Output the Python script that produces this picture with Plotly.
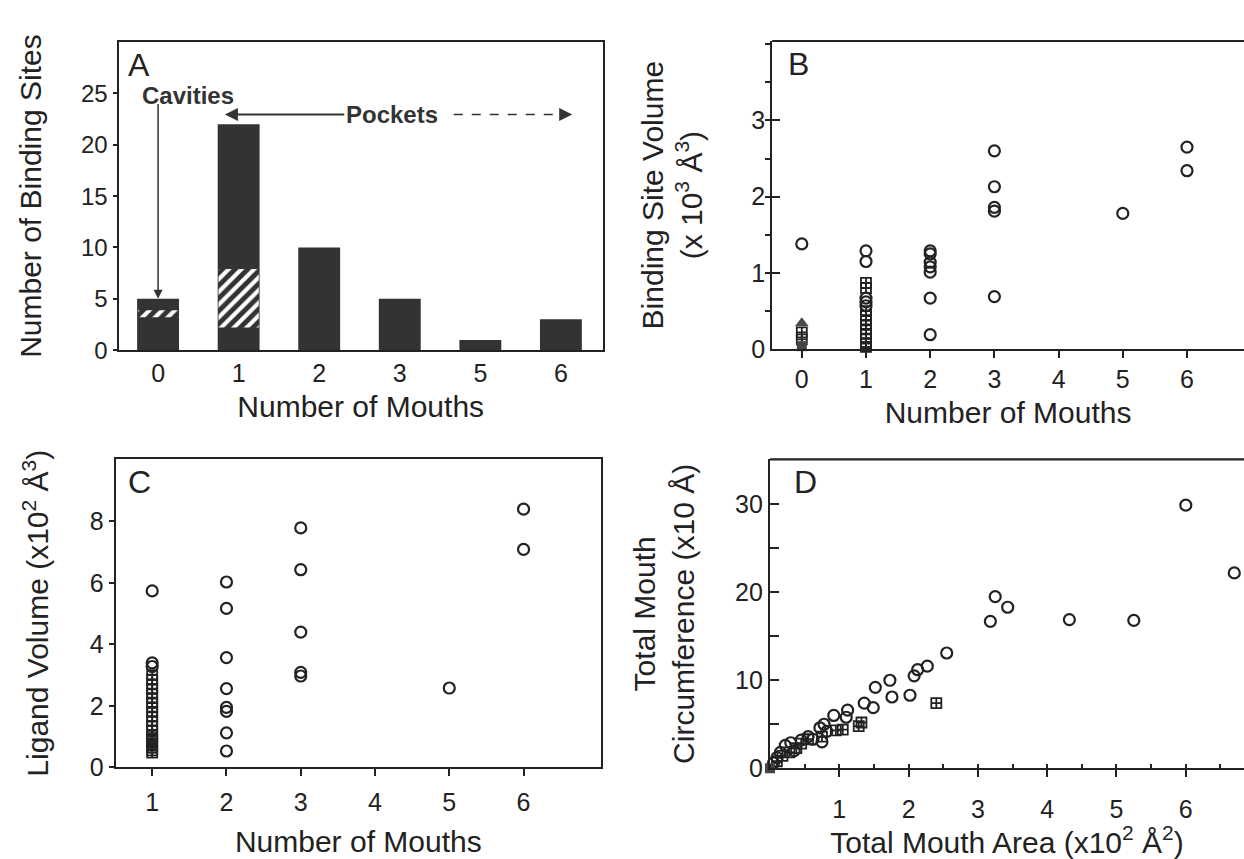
import plotly.graph_objects as go

# ---------------- Panel A: histogram of binding sites ----------------
mouth_categories = ["0", "1", "2", "3", "5", "6"]
site_counts = [5, 22, 10, 5, 1, 3]
hatched_categories = ["0", "1"]
hatched_base = [3.2, 2.2]
hatched_top = [3.9, 7.9]

# ---------------- Panel B: binding site volume (x10^3 A^3) ----------------
b_circle_x = [0, 1, 1, 1, 1, 1, 2, 2, 2, 2, 2, 2, 2, 3, 3, 3, 3, 3, 5, 6, 6]
b_circle_y = [1.38, 1.29, 1.15, 0.67, 0.62, 0.57, 1.29, 1.25, 1.14, 1.08, 1.01, 0.67, 0.19,
              2.60, 2.13, 1.86, 1.81, 0.69, 1.78, 2.65, 2.34]
b_square_x = [0, 0, 1, 1, 1, 1, 1, 1, 1, 1, 1, 1, 1]
b_square_y = [0.22, 0.13, 0.87, 0.80, 0.50, 0.44, 0.38, 0.32, 0.26, 0.20, 0.14, 0.08, 0.03]
b_filled_x = [0]
b_filled_y = [0.04]
b_triangle_x = [0]
b_triangle_y = [0.34]

# ---------------- Panel C: ligand volume (x10^2 A^3) ----------------
c_circle_x = [1, 1, 1, 2, 2, 2, 2, 2, 2, 2, 2, 3, 3, 3, 3, 3, 5, 6, 6]
c_circle_y = [5.74, 3.40, 3.28, 6.03, 5.17, 3.57, 2.56, 1.95, 1.82, 1.12, 0.53,
              7.79, 6.43, 4.40, 3.09, 2.97, 2.58, 8.40, 7.09]
c_square_x = [1] * 20
c_square_y = [3.00, 2.85, 2.70, 2.55, 2.40, 2.25, 2.10, 1.95, 1.80, 1.65,
              1.50, 1.35, 1.20, 1.05, 0.95, 0.85, 0.75, 0.65, 0.55, 0.48]

# ---------------- Panel D: mouth circumference vs area ----------------
d_circle_x = [6.00, 6.70, 3.25, 3.43, 3.18, 4.32, 5.25, 2.55, 2.27, 2.13, 2.08, 1.73, 1.52,
              1.76, 2.02, 1.36, 1.49, 1.12, 1.10, 0.92, 0.78, 0.72, 0.55, 0.45, 0.30,
              0.22, 0.15, 0.10, 0.05, 0.82, 0.62, 0.75, 0.35]
d_circle_y = [29.9, 22.2, 19.5, 18.3, 16.7, 16.9, 16.8, 13.1, 11.6, 11.2, 10.5, 10.0, 9.2,
              8.1, 8.3, 7.4, 6.9, 6.6, 5.8, 6.0, 5.0, 4.6, 3.6, 3.2, 2.9,
              2.6, 1.8, 1.2, 0.6, 4.2, 3.3, 3.0, 2.0]
d_square_x = [2.40, 1.32, 1.28, 1.05, 0.95, 0.75, 0.55, 0.45, 0.38, 0.28, 0.18, 0.10]
d_square_y = [7.4, 5.2, 4.8, 4.4, 4.3, 3.6, 3.3, 2.8, 2.3, 1.8, 1.4, 0.8]
d_filled_x = [0.0]
d_filled_y = [0.0]

INK = "#222222"
FONT = "Liberation Sans, Arial, Helvetica, sans-serif"
W, H = 1244, 859


def dom_x(left, right):
    return [left / W, min(right / W, 1.0)]


def dom_y(top, bottom):
    return [1 - bottom / H, 1 - top / H]


circle_marker = dict(symbol="circle-open", size=11, color=INK, line=dict(width=2.2, color=INK))
square_marker = dict(symbol="square-cross-open", size=10, color=INK, line=dict(width=1.8, color=INK))
filled_marker = dict(symbol="square", size=10, color="#444444")
tri_marker = dict(symbol="triangle-up", size=12, color="#4a4a4a")

fig = go.Figure()

# Panel A bars
fig.add_trace(go.Bar(x=mouth_categories, y=site_counts, width=0.52,
                     marker=dict(color="#333333", line=dict(width=0)),
                     xaxis="x", yaxis="y", showlegend=False))
fig.add_trace(go.Bar(x=hatched_categories,
                     y=[t - b for t, b in zip(hatched_top, hatched_base)],
                     base=hatched_base, width=0.5,
                     marker=dict(color="white", line=dict(width=0),
                                 pattern=dict(shape="/", bgcolor="white", fgcolor="#333333",
                                              size=9, solidity=0.55, fillmode="replace")),
                     xaxis="x", yaxis="y", showlegend=False))

# Panel B
fig.add_trace(go.Scatter(x=b_circle_x, y=b_circle_y, mode="markers", marker=circle_marker,
                         xaxis="x2", yaxis="y2", showlegend=False, cliponaxis=False))
fig.add_trace(go.Scatter(x=b_square_x, y=b_square_y, mode="markers", marker=square_marker,
                         xaxis="x2", yaxis="y2", showlegend=False, cliponaxis=False))
fig.add_trace(go.Scatter(x=b_filled_x, y=b_filled_y, mode="markers", marker=filled_marker,
                         xaxis="x2", yaxis="y2", showlegend=False, cliponaxis=False))
fig.add_trace(go.Scatter(x=b_triangle_x, y=b_triangle_y, mode="markers", marker=tri_marker,
                         xaxis="x2", yaxis="y2", showlegend=False, cliponaxis=False))

# Panel C
fig.add_trace(go.Scatter(x=c_square_x, y=c_square_y, mode="markers", marker=square_marker,
                         xaxis="x3", yaxis="y3", showlegend=False, cliponaxis=False))
fig.add_trace(go.Scatter(x=c_circle_x, y=c_circle_y, mode="markers", marker=circle_marker,
                         xaxis="x3", yaxis="y3", showlegend=False, cliponaxis=False))

# Panel D
fig.add_trace(go.Scatter(x=d_circle_x, y=d_circle_y, mode="markers", marker=circle_marker,
                         xaxis="x4", yaxis="y4", showlegend=False, cliponaxis=False))
fig.add_trace(go.Scatter(x=d_square_x, y=d_square_y, mode="markers", marker=square_marker,
                         xaxis="x4", yaxis="y4", showlegend=False, cliponaxis=False))
fig.add_trace(go.Scatter(x=d_filled_x, y=d_filled_y, mode="markers", marker=filled_marker,
                         xaxis="x4", yaxis="y4", showlegend=False, cliponaxis=False))

axis_common = dict(showline=True, linecolor=INK, linewidth=2.2, showgrid=False, zeroline=False,
                   tickcolor=INK, tickwidth=2, tickfont=dict(family=FONT, size=25, color=INK))
title_font = dict(family=FONT, size=30, color=INK)

fig.update_layout(
    width=W, height=H, margin=dict(l=0, r=0, t=0, b=0),
    paper_bgcolor="white", plot_bgcolor="white", barmode="overlay",
    font=dict(family=FONT, color=INK),
    xaxis=dict(axis_common, domain=dom_x(118.6, 602.8), type="category", range=[-0.49, 5.52],
               mirror=True, ticks="", anchor="y",
               title=dict(text="Number of Mouths", font=title_font, standoff=10)),
    yaxis=dict(axis_common, domain=dom_y(42.7, 356), range=[0, 30], mirror=True,
               tickvals=[0, 5, 10, 15, 20, 25], ticks="outside", ticklen=4, anchor="x",
               tickfont=dict(family=FONT, size=24, color=INK),
               title=dict(text="Number of Binding Sites", font=title_font, standoff=30)),
    xaxis2=dict(axis_common, domain=dom_x(772.2, 1244), range=[-0.461, 6.888],
                tickvals=[0, 1, 2, 3, 4, 5, 6], ticks="outside", ticklen=7, anchor="y2",
                title=dict(text="Number of Mouths", font=title_font, standoff=10)),
    yaxis2=dict(axis_common, domain=dom_y(41.7, 355), range=[0, 4.04],
                tickvals=[0, 1, 2, 3], ticks="inside", ticklen=8, anchor="x2",
                minor=dict(dtick=0.5, ticks="outside", ticklen=5, tickcolor=INK, tickwidth=2),
                title=dict(text="Binding Site Volume<br>(x 10<sup>3</sup> Å<sup>3</sup>)",
                           font=title_font, standoff=40)),
    xaxis3=dict(axis_common, domain=dom_x(115.8, 600.8), range=[0.51, 7.04], mirror=True,
                tickvals=[1, 2, 3, 4, 5, 6], ticks="outside", ticklen=7, ticklabelstandoff=5,
                anchor="y3",
                title=dict(text="Number of Mouths", font=title_font, standoff=16)),
    yaxis3=dict(axis_common, domain=dom_y(466.7, 780), range=[0, 10.03], mirror=True,
                tickvals=[0, 2, 4, 6, 8], ticks="outside", ticklen=5, anchor="x3",
                title=dict(text="Ligand Volume (x10<sup>2</sup> Å<sup>3</sup>)",
                           font=title_font, standoff=32)),
    xaxis4=dict(axis_common, domain=dom_x(770, 1244), range=[0, 6.84],
                tickvals=[1, 2, 3, 4, 5, 6], ticks="outside", ticklen=7, ticklabelstandoff=11,
                anchor="y4",
                minor=dict(dtick=0.5, ticks="inside", ticklen=4, tickcolor=INK, tickwidth=1.5),
                title=dict(text="Total Mouth Area (x10<sup>2</sup> Å<sup>2</sup>)",
                           font=title_font, standoff=0)),
    yaxis4=dict(axis_common, domain=dom_y(467, 781), range=[0, 35.1],
                tickvals=[0, 10, 20, 30], ticks="inside", ticklen=9, anchor="x4",
                minor=dict(dtick=5, ticks="inside", ticklen=9, tickcolor=INK, tickwidth=2),
                title=dict(text="Total Mouth<br>Circumference (x10 Å)", font=title_font, standoff=32)),
)

# Top frame lines of panels B and D (their right edge runs off the page)
for xr, yr in [("x2 domain", "y2 domain"), ("x4 domain", "y4 domain")]:
    fig.add_shape(type="line", xref=xr, yref=yr, x0=0, x1=1, y0=1, y1=1,
                  line=dict(color=INK, width=2.2))

# Panel letters
letter_font = dict(family=FONT, size=32, color=INK)
for letter, xr, yr, xpos in [("A", "x domain", "y domain", 0.016), ("B", "x2 domain", "y2 domain", 0.03),
                             ("C", "x3 domain", "y3 domain", 0.022), ("D", "x4 domain", "y4 domain", 0.047)]:
    fig.add_annotation(text=letter, xref=xr, yref=yr, x=xpos, y=0.99, xanchor="left", yanchor="top",
                       showarrow=False, font=letter_font)

# Panel A annotations
bold_font = dict(family=FONT, size=24, color="#333333")
fig.add_annotation(text="<b>Cavities</b>", xref="x domain", yref="y domain", x=0.045, y=0.827,
                   xanchor="left", yanchor="middle", showarrow=False, font=bold_font)
fig.add_annotation(text="", xref="x", yref="y", x=0, y=5, axref="x", ayref="y", ax=0, ay=24.1,
                   showarrow=True, arrowhead=2, arrowsize=1.2, arrowwidth=1.5, arrowcolor="#333333",
                   standoff=0)
fig.add_annotation(text="<b>Pockets</b>", xref="x", yref="y", x=0.83, y=22.95, axref="x", ayref="y",
                   ax=2.9, ay=22.95, showarrow=True, arrowhead=2, arrowsize=1.3, arrowwidth=2,
                   arrowcolor="#333333", standoff=0, font=bold_font)
fig.add_shape(type="line", xref="x", yref="y", x0=3.67, x1=5.05, y0=22.95, y1=22.95,
              line=dict(color="#333333", width=1.5, dash="dash"))
fig.add_annotation(text="", xref="x", yref="y", x=5.14, y=22.95, axref="x", ayref="y", ax=5.0, ay=22.95,
                   showarrow=True, arrowhead=2, arrowsize=1.3, arrowwidth=2, arrowcolor="#333333",
                   standoff=0)

fig.write_html("out.html", config={"displayModeBar": False},
               post_script="document.body.style.margin='0';document.body.style.overflow='hidden';")
